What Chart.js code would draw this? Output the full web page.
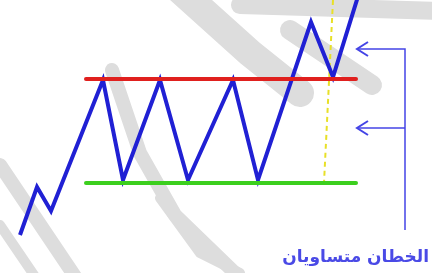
<!DOCTYPE html>
<html lang="ar">
<head>
    <meta charset="UTF-8">
    <title>الخطان متساويان</title>
    <script src="https://cdn.jsdelivr.net/npm/chart.js"></script>
    <style>
        body { margin: 0; background: #ffffff; }
        #wrap { width: 432px; height: 273px; }
    </style>
</head>
<body>
<div id="wrap"><canvas id="chart" width="432" height="273"></canvas></div>
<script>
    // price path (x, y) — y measured upward from the bottom
    const priceX = [20, 37, 51, 103, 123, 160, 188, 233, 258, 311, 333, 360];
    const priceY = [38, 86, 62, 193, 93, 193, 93, 193, 93, 251, 196, 283];

    // two equal horizontal lines
    const levelX = [86, 356];
    const resistance = 194;
    const support = 90;

    // breakout marker
    const markerX = [333, 324];
    const markerY = [273, 90];

    // bracket on the right
    const bracketX = 405;
    const bracketTop = 224;
    const bracketMid = 145;
    const bracketBottom = 43;
    const arrowTip = 357;

    const label = 'الخطان متساويان';

    // faint watermark strokes
    const shadeX = [[180, 250, 300], [240, 440], [290, 372], [112, 140, 175, 235], [160, 200, 240], [0, 76], [0, 36]];
    const shadeY = [[283, 220, 180], [268, 262], [243, 188], [203, 120, 58, 0], [75, 20, 0], [108, -5], [48, -5]];
    const shadeW = [28, 18, 20, 14, 10, 14, 10];

    const pts = (xs, ys) => xs.map((x, i) => ({ x: x, y: ys[i] }));

    const datasets = [];
    // watermark sits underneath everything (higher order = drawn first)
    shadeX.forEach((xs, i) => {
        datasets.push({ data: pts(xs, shadeY[i]), borderColor: '#dddddd', borderWidth: shadeW[i], borderCapStyle: 'round', borderJoinStyle: 'round', order: 10 });
    });
    datasets.push({ data: pts(markerX, markerY), borderColor: '#e8e028', borderWidth: 2, borderDash: [5, 4], order: 5 });
    datasets.push({ data: pts(priceX, priceY), borderColor: '#2020d4', borderWidth: 4, borderJoinStyle: 'miter', order: 2 });
    datasets.push({ data: pts(levelX, [resistance, resistance]), borderColor: '#e0201e', borderWidth: 4, borderCapStyle: 'round', order: 1 });
    datasets.push({ data: pts(levelX, [support, support]), borderColor: '#3ccf1e', borderWidth: 4, borderCapStyle: 'round', order: 1 });
    // bracket and arrows
    datasets.push({ data: pts([arrowTip, bracketX, bracketX], [bracketTop, bracketTop, bracketBottom]), borderColor: '#4444e6', borderWidth: 1.5, order: 0 });
    datasets.push({ data: pts([arrowTip, bracketX], [bracketMid, bracketMid]), borderColor: '#4444e6', borderWidth: 1.5, order: 0 });
    [bracketTop, bracketMid].forEach(y => {
        datasets.push({ data: pts([arrowTip + 11, arrowTip, arrowTip + 11], [y + 7, y, y - 7]), borderColor: '#4444e6', borderWidth: 2, order: 0 });
    });

    const textPlugin = {
        id: 'caption',
        afterDraw(chart) {
            const ctx = chart.ctx;
            const x = chart.scales.x.getPixelForValue(429);
            const y = chart.scales.y.getPixelForValue(11);
            ctx.save();
            ctx.font = 'bold 17px "DejaVu Sans"';
            ctx.fillStyle = '#4a4ae6';
            ctx.direction = 'rtl';
            ctx.textAlign = 'right';
            ctx.textBaseline = 'alphabetic';
            ctx.fillText(label, x, y);
            ctx.restore();
        }
    };

    new Chart(document.getElementById('chart').getContext('2d'), {
        type: 'scatter',
        data: { datasets: datasets.map(d => Object.assign({ showLine: true, pointRadius: 0, fill: false, tension: 0 }, d)) },
        options: {
            responsive: false,
            animation: false,
            layout: { padding: 0 },
            plugins: { legend: { display: false }, tooltip: { enabled: false } },
            scales: {
                x: { type: 'linear', min: 0, max: 432, display: false },
                y: { type: 'linear', min: 0, max: 273, display: false }
            }
        },
        plugins: [textPlugin]
    });
</script>
</body>
</html>
